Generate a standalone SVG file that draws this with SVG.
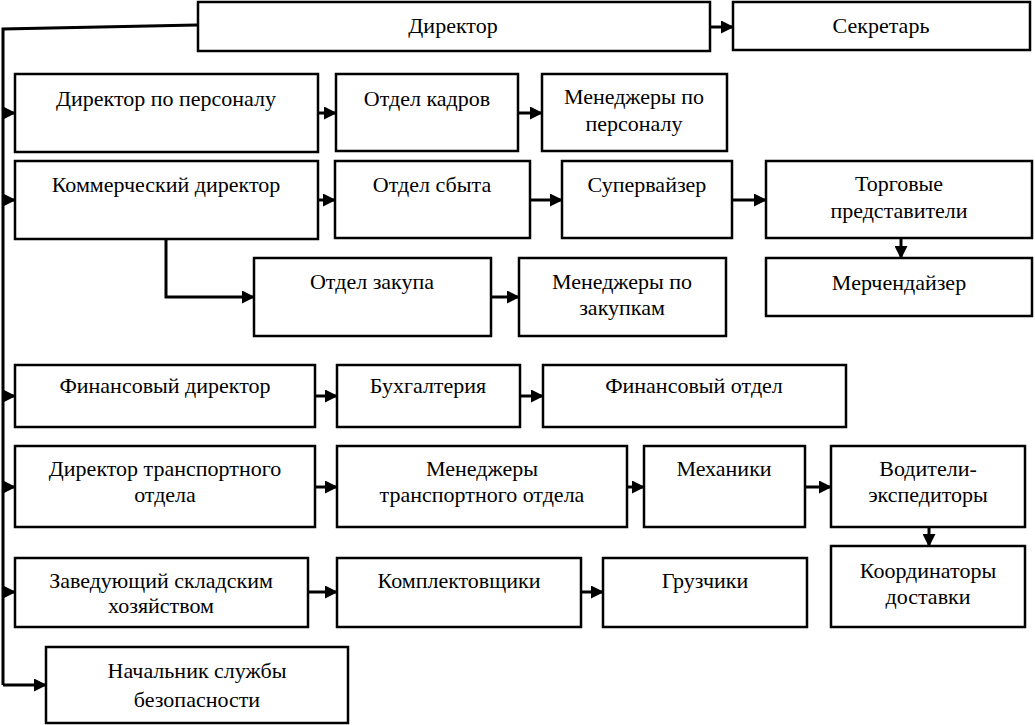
<svg xmlns="http://www.w3.org/2000/svg" width="1035" height="725" viewBox="0 0 1035 725">
<defs>
<marker id="ah" markerUnits="userSpaceOnUse" markerWidth="14" markerHeight="13" refX="13" refY="6.5" orient="auto">
<path d="M0,0 L13,6.5 L0,13 z" fill="#000"/>
</marker>
<style>
rect{fill:#fff;stroke:#000;stroke-width:2.5}
text{font-family:'Liberation Serif','Tinos','DejaVu Serif',serif;font-size:22px;fill:#000;text-anchor:middle}
#connectors path{fill:none;stroke:#000;stroke-width:3}
.a{marker-end:url(#ah)}
</style>
</defs>
<rect x="0" y="0" width="1035" height="725" style="fill:#fff;stroke:none"/>
<g id="connectors">
<path d="M197,25 L3,29 V685"/>
<path class="a" d="M3,113 H16"/>
<path class="a" d="M3,200 H16"/>
<path class="a" d="M3,396 H16"/>
<path class="a" d="M3,487 H16"/>
<path class="a" d="M3,592 H16"/>
<path class="a" d="M3,685 H47"/>
<path class="a" d="M710,27 H734"/>
<path class="a" d="M318,113 H337"/>
<path class="a" d="M518,113 H543"/>
<path class="a" d="M318,200 H336"/>
<path class="a" d="M530,200 H563"/>
<path class="a" d="M732,200 H767"/>
<path class="a" d="M166,239 V297 H255"/>
<path class="a" d="M491,297 H520"/>
<path class="a" d="M901,239 V259"/>
<path class="a" d="M315,396 H338"/>
<path class="a" d="M520,396 H544"/>
<path class="a" d="M315,487 H338"/>
<path class="a" d="M627,487 H645"/>
<path class="a" d="M805,487 H832"/>
<path class="a" d="M929,527 V547"/>
<path class="a" d="M308,592 H338"/>
<path class="a" d="M581,592 H604"/>
</g>
<g font-family="Liberation Serif, serif">
<g id="director"><rect x="198" y="2" width="512" height="49"/><text x="453" y="33">Директор</text></g>
<g id="secretary"><rect x="733" y="2" width="297" height="48"/><text x="881" y="33">Секретарь</text></g>
<g id="hr-director"><rect x="15" y="74" width="303" height="78"/><text x="166" y="106">Директор по персоналу</text></g>
<g id="hr-dept"><rect x="336" y="74" width="182" height="77"/><text x="427" y="106">Отдел кадров</text></g>
<g id="hr-managers"><rect x="542" y="74" width="185" height="77"/><text x="634" y="104">Менеджеры по</text><text x="634" y="131">персоналу</text></g>
<g id="commercial-director"><rect x="15" y="161" width="303" height="78"/><text x="166" y="192">Коммерческий директор</text></g>
<g id="sales-dept"><rect x="335" y="161" width="195" height="77"/><text x="432" y="192">Отдел сбыта</text></g>
<g id="supervisor"><rect x="562" y="161" width="170" height="77"/><text x="647" y="192">Супервайзер</text></g>
<g id="sales-reps"><rect x="766" y="161" width="266" height="77"/><text x="899" y="191">Торговые</text><text x="899" y="218">представители</text></g>
<g id="purchase-dept"><rect x="254" y="258" width="237" height="78"/><text x="372" y="289">Отдел закупа</text></g>
<g id="purchase-managers"><rect x="519" y="258" width="207" height="78"/><text x="622" y="289">Менеджеры по</text><text x="622" y="315">закупкам</text></g>
<g id="merchandiser"><rect x="766" y="258" width="266" height="58"/><text x="899" y="290">Мерчендайзер</text></g>
<g id="finance-director"><rect x="15" y="365" width="300" height="62"/><text x="165" y="393">Финансовый директор</text></g>
<g id="accounting"><rect x="337" y="365" width="183" height="62"/><text x="428" y="393">Бухгалтерия</text></g>
<g id="finance-dept"><rect x="543" y="365" width="303" height="62"/><text x="694" y="393">Финансовый отдел</text></g>
<g id="transport-director"><rect x="15" y="446" width="300" height="81"/><text x="165" y="476">Директор транспортного</text><text x="165" y="502">отдела</text></g>
<g id="transport-managers"><rect x="337" y="446" width="290" height="81"/><text x="482" y="476">Менеджеры</text><text x="482" y="502">транспортного отдела</text></g>
<g id="mechanics"><rect x="644" y="446" width="161" height="81"/><text x="724" y="476">Механики</text></g>
<g id="drivers"><rect x="831" y="446" width="194" height="81"/><text x="928" y="476">Водители-</text><text x="928" y="502">экспедиторы</text></g>
<g id="delivery-coordinators"><rect x="831" y="546" width="194" height="81"/><text x="928" y="578">Координаторы</text><text x="928" y="604">доставки</text></g>
<g id="warehouse-head"><rect x="15" y="558" width="293" height="69"/><text x="161" y="588">Заведующий складским</text><text x="161" y="613">хозяйством</text></g>
<g id="pickers"><rect x="337" y="558" width="244" height="69"/><text x="459" y="588">Комплектовщики</text></g>
<g id="loaders"><rect x="603" y="558" width="204" height="69"/><text x="705" y="588">Грузчики</text></g>
<g id="security-head"><rect x="46" y="647" width="302" height="76"/><text x="197" y="678">Начальник службы</text><text x="197" y="707">безопасности</text></g>
</g>
</svg>
